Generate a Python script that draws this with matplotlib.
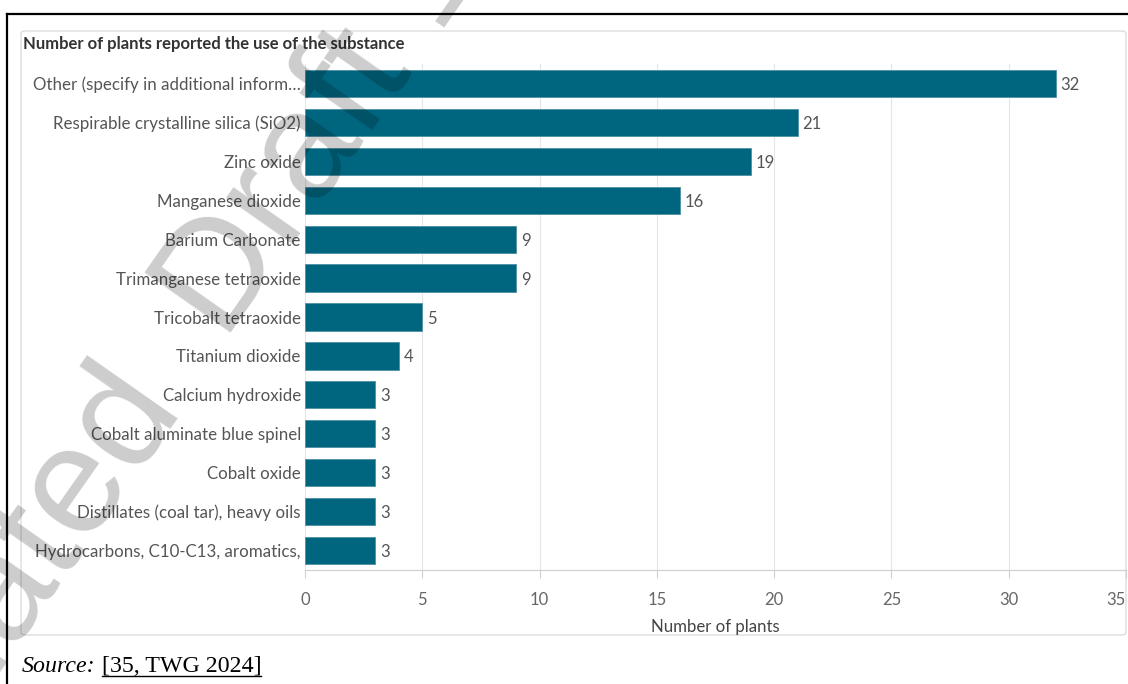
import matplotlib
matplotlib.use("Agg")
import matplotlib.pyplot as plt
from matplotlib.patches import FancyBboxPatch
from matplotlib.lines import Line2D

substances = [
    "Other (specify in additional inform\u2026",
    "Respirable crystalline silica (SiO2)",
    "Zinc oxide",
    "Manganese dioxide",
    "Barium Carbonate",
    "Trimanganese tetraoxide",
    "Tricobalt tetraoxide",
    "Titanium dioxide",
    "Calcium hydroxide",
    "Cobalt aluminate blue spinel",
    "Cobalt oxide",
    "Distillates (coal tar), heavy oils",
    "Hydrocarbons, C10-C13, aromatics,",
]
plants = [32, 21, 19, 16, 9, 9, 5, 4, 3, 3, 3, 3, 3]
x_ticks = [0, 5, 10, 15, 20, 25, 30, 35]

title = "Number of plants reported the use of the substance"
x_label = "Number of plants"

W, H = 1128, 684
BAR = "#006680"
FONT = "Lato"

fig = plt.figure(figsize=(W / 100, H / 100), dpi=100)

def fx(px):
    return px / W

def fy(py):
    return 1 - py / H

# document frame (top and left rules)
fig.add_artist(Line2D([fx(7), 1.0], [fy(14), fy(14)], color="black", lw=1.6))
fig.add_artist(Line2D([fx(7), fx(7)], [fy(14), 0.0], color="black", lw=1.6))

# chart card, kept behind the axes
card = FancyBboxPatch((fx(21), fy(635)), fx(1126) - fx(21), fy(31) - fy(635),
                      boxstyle="round,pad=0,rounding_size=0.004",
                      transform=fig.transFigure, facecolor="white",
                      edgecolor="#dddddd", lw=1.0, zorder=-1)
fig.add_artist(card)

ax = fig.add_axes([fx(305), fy(570), fx(1126) - fx(305), fy(64) - fy(570)])
ax.set_facecolor("none")

ypos = list(range(len(substances)))
ax.barh(ypos, plants, height=0.7, color=BAR, edgecolor="#4f8fa3",
        linewidth=0.6, zorder=3)
for y, v in zip(ypos, plants):
    ax.text(v + 0.2, y, str(v), va="center_baseline", ha="left", fontsize=12,
            color="#555555", family=FONT, zorder=4)

ax.set_ylim(len(substances) - 0.5, -0.5)
ax.set_xlim(0, 35)
ax.set_yticks(ypos)
ax.set_yticklabels(substances, fontsize=12.2, color="#555555", family=FONT)
ax.tick_params(axis="y", length=0, pad=3)
ax.set_xticks(x_ticks)
ax.set_xticklabels([str(t) for t in x_ticks], fontsize=12, color="#666666",
                   family=FONT)
ax.get_xticklabels()[-1].set_horizontalalignment("right")
ax.tick_params(axis="x", length=6, color="#d0d0d0", pad=10, width=0.8)
ax.grid(axis="x", color="#e6e6e6", lw=0.8, zorder=0)
ax.set_axisbelow(True)
for s in ["top", "right", "left"]:
    ax.spines[s].set_visible(False)
ax.spines["bottom"].set_color("#d0d0d0")
ax.spines["bottom"].set_linewidth(0.9)
ax.set_xlabel(x_label, fontsize=12.1, color="#444444", family=FONT, labelpad=8)

fig.text(fx(23), fy(44), title, fontsize=12, fontweight="bold",
         color="#333333", family=FONT, va="center", ha="left")

# source line
src = fig.text(fx(22), fy(666), "Source:", fontsize=17.2, style="italic",
               family="Liberation Serif", va="center", ha="left")
fig.canvas.draw()
bb = src.get_window_extent()
ref = fig.text((bb.x1 + 6) / W, fy(666), "[35, TWG 2024]", fontsize=17.2,
               family="Liberation Serif", va="center", ha="left")
fig.canvas.draw()
rb = ref.get_window_extent()
fig.add_artist(Line2D([rb.x0 / W, rb.x1 / W], [fy(676), fy(676)],
                      color="black", lw=1.0))

# draft watermark, two words anchored on their baselines
wm = dict(fontsize=110, color="black", alpha=0.2, rotation=55,
          family="Liberation Sans", va="baseline", rotation_mode="anchor",
          zorder=10)
fig.text(fx(180), fy(402), "Outdated", ha="right", **wm)
fig.text(fx(224), fy(342), "Draft 1", ha="left", **wm)

fig.savefig("out.png", dpi=100)
